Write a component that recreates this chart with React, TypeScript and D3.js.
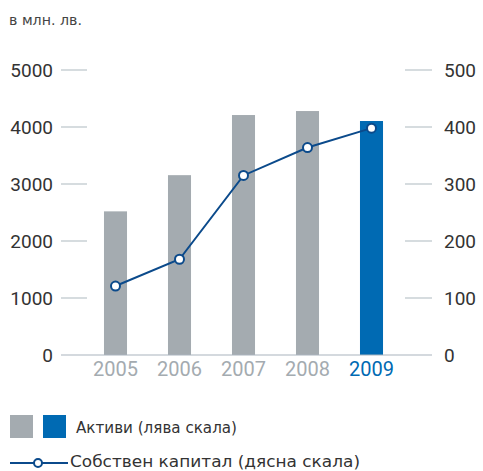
import * as d3 from 'd3';

const years = ['2005', '2006', '2007', '2008', '2009'];
const assets = [2520, 3155, 4210, 4280, 4105];
const equity = [121, 168, 315, 364, 398];
const leftTicks = [0, 1000, 2000, 3000, 4000, 5000];
const rightTicks = [0, 100, 200, 300, 400, 500];

const W = 483;
const H = 471;
const FONT = 'Roboto, "Liberation Sans", sans-serif';
const LEGEND_FONT = '"DejaVu Sans", "Open Sans", sans-serif';

export default function App() {
  const y = d3.scaleLinear().domain([0, 5000]).range([355, 70]);
  const yR = d3.scaleLinear().domain([0, 500]).range([355, 70]);
  const x = d3.scaleBand().domain(years).range([83.5, 403.5]).paddingInner(0.64).paddingOuter(0.32);

  const line = d3
    .line<number>()
    .x((_, i) => x(years[i])! + x.bandwidth() / 2)
    .y((d) => yR(d));

  return (
    <svg
      width={W}
      height={H}
      style={{ position: 'absolute', left: 0, top: 0, background: '#fff' }}
      fontFamily={FONT}
    >
      <text x={9} y={25} fontSize={14} fill="#444" fontFamily={LEGEND_FONT} textLength={73} lengthAdjust="spacingAndGlyphs">
        в млн. лв.
      </text>

      {/* left axis */}
      {leftTicks.map((t) => (
        <g key={'l' + t}>
          {t > 0 && <line x1={61} x2={87} y1={y(t)} y2={y(t)} stroke="#c9d0d5" strokeWidth={1.5} />}
          <text x={53} y={y(t)} dy="0.35em" textAnchor="end" fontSize={19} fill="#333">
            {t}
          </text>
        </g>
      ))}

      {/* right axis */}
      {rightTicks.map((t) => (
        <g key={'r' + t}>
          {t > 0 && <line x1={405} x2={432} y1={yR(t)} y2={yR(t)} stroke="#c9d0d5" strokeWidth={1.5} />}
          <text x={444} y={yR(t)} dy="0.35em" textAnchor="start" fontSize={19} fill="#333">
            {t}
          </text>
        </g>
      ))}

      {/* bars */}
      {assets.map((v, i) => (
        <rect
          key={years[i]}
          x={x(years[i])}
          y={y(v)}
          width={x.bandwidth()}
          height={y(0) - y(v)}
          fill={i === years.length - 1 ? '#006ab3' : '#a4abb0'}
        />
      ))}

      <line x1={61} x2={432} y1={y(0)} y2={y(0)} stroke="#a9b4bd" strokeWidth={1.2} />

      {/* year labels */}
      {years.map((yr, i) => (
        <text
          key={'t' + yr}
          x={x(yr)! + x.bandwidth() / 2}
          y={376}
          textAnchor="middle"
          fontSize={20}
          fill={i === years.length - 1 ? '#006ab3' : '#a4abb0'}
        >
          {yr}
        </text>
      ))}

      {/* equity line */}
      <path d={line(equity) ?? ''} fill="none" stroke="#0b4a8b" strokeWidth={2} />
      {equity.map((v, i) => (
        <circle
          key={'c' + i}
          cx={x(years[i])! + x.bandwidth() / 2}
          cy={yR(v)}
          r={4.5}
          fill="#fff"
          stroke="#0b4a8b"
          strokeWidth={2}
        />
      ))}

      {/* legend */}
      <rect x={10} y={415} width={23} height={23} fill="#a4abb0" />
      <rect x={43} y={415} width={23} height={23} fill="#006ab3" />
      <text x={76} y={433} fontSize={15} fill="#333" fontFamily={LEGEND_FONT} textLength={161} lengthAdjust="spacingAndGlyphs">
        Активи (лява скала)
      </text>
      <line x1={10} x2={68} y1={463} y2={463} stroke="#0b4a8b" strokeWidth={2} />
      <circle cx={38} cy={463} r={4} fill="#fff" stroke="#0b4a8b" strokeWidth={2} />
      <text x={70} y={467} fontSize={15} fill="#333" fontFamily={LEGEND_FONT} textLength={290} lengthAdjust="spacingAndGlyphs">
        Собствен капитал (дясна скала)
      </text>
    </svg>
  );
}
